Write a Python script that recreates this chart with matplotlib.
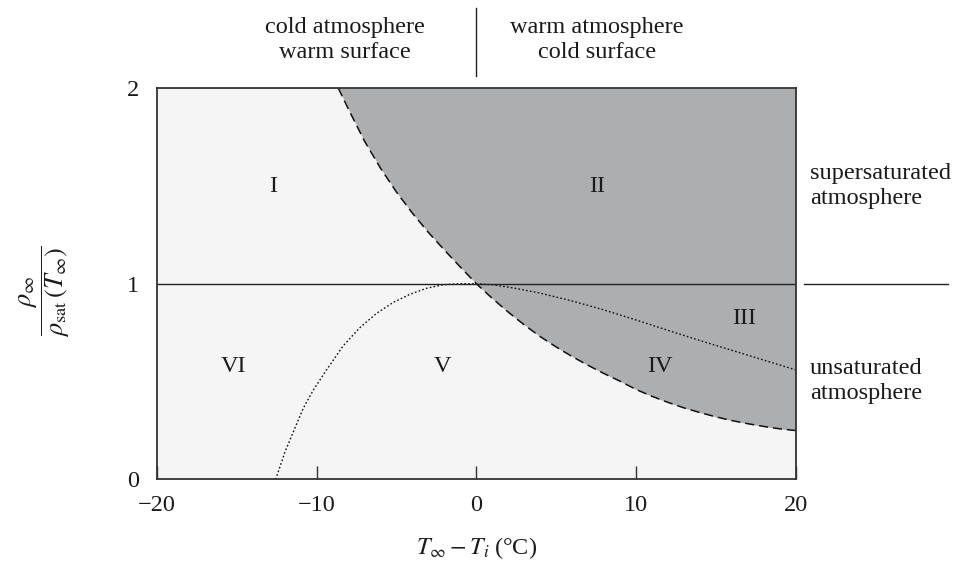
import matplotlib
matplotlib.use("Agg")
import matplotlib.pyplot as plt
import matplotlib.transforms as mtransforms

plt.rcParams['font.family'] = ['Liberation Serif', 'DejaVu Serif']
plt.rcParams['mathtext.fontset'] = 'stix'

# Dashed curve: saturation boundary rho_sat(T_i)/rho_sat(T_inf)
dash_x = [-8.65, -8.0, -7.0, -6.0, -5.0, -4.0, -3.0, -2.0, -1.0, 0.0, 1.0, 2.0, 3.0, 4.0, 5.0,
          6.0, 7.0, 8.0, 9.0, 10.0, 11.0, 12.0, 13.0, 14.0, 15.0, 16.0, 17.0, 18.0, 19.0, 20.0]
dash_y = [2.0, 1.89, 1.728, 1.59, 1.468, 1.36, 1.262, 1.172, 1.085, 1.0, 0.925, 0.855, 0.79, 0.73, 0.677,
          0.628, 0.583, 0.541, 0.502, 0.46, 0.425, 0.394, 0.366, 0.342, 0.32, 0.301, 0.285, 0.271, 0.259, 0.25]

# Dotted curve
dot_x = [-12.57, -11.98, -11.46, -10.84, -10.21, -9.38, -8.33, -7.29, -6.25, -5.2, -4.16, -3.12,
         -2.08, -1.03, 0.0, 1.0, 2.0, 3.0, 4.0, 6.0, 8.0, 10.0, 12.0, 14.0, 16.0, 18.0, 20.0]
dot_y = [0.0, 0.142, 0.244, 0.364, 0.457, 0.56, 0.684, 0.776, 0.849, 0.905, 0.946, 0.977,
         0.995, 1.0, 1.0, 0.995, 0.983, 0.968, 0.952, 0.912, 0.866, 0.815, 0.762, 0.71, 0.66, 0.61, 0.56]

region_labels = ['I', 'II', 'III', 'IV', 'V', 'VI']
region_x = [-12.7, 7.54, 16.8, 11.5, -2.1, -15.2]
region_y = [1.495, 1.495, 0.825, 0.575, 0.575, 0.575]

xticks = [-20, -10, 0, 10, 20]
yticks = [0, 1, 2]

txt = '#1a1a1a'
fs = 17.5

fig = plt.figure(figsize=(9.55, 5.61), dpi=100)
ax = fig.add_axes([0.1644, 0.1453, 0.8332 - 0.1644, 0.8431 - 0.1453])
ax.set_facecolor('#f5f5f5')
ax.set_xlim(-20, 20)
ax.set_ylim(0, 2)

ax.fill_between(dash_x, dash_y, 2, color='#adaeb0', linewidth=0)
ax.plot(dash_x, dash_y, color='#111111', lw=1.1, dashes=(6, 3.2))
ax.plot(dot_x, dot_y, color='#111111', lw=1.0, dashes=(1.2, 1.6))
ax.axhline(1, color='#222222', lw=1.0)

for lab, x, y in zip(region_labels, region_x, region_y):
    ax.text(x, y, lab, ha='center', va='center', fontsize=fs, color=txt)

for s in ax.spines.values():
    s.set_linewidth(1.3)
    s.set_color('#333333')

ax.set_xticks(xticks)
ax.set_xticklabels([('\u2212%d' % -t) if t < 0 else str(t) for t in xticks])
ax.set_yticks(yticks)
ax.tick_params(axis='x', direction='in', length=9.5, width=1.0, pad=11, labelsize=fs, colors='#333333', labelcolor=txt)
ax.tick_params(axis='y', length=0, pad=13, labelsize=fs, labelcolor=txt)

ax.set_xlabel(r'$T_\infty - T_i\;$(°C)', fontsize=fs, color=txt, labelpad=14)

fig.text(45 / 955, 1 - 291 / 561, r'$\dfrac{\rho_\infty}{\rho_{\mathrm{sat}}\,(T_\infty)}$',
         rotation=90, ha='center', va='center', fontsize=19, color=txt)

# top annotations
trans_top = mtransforms.blended_transform_factory(ax.transData, ax.transAxes)
ax.plot([0, 0], [1.031, 1.204], transform=trans_top, color='#222222', lw=1.0, clip_on=False)
fig.text(345 / 955, 1 - 40 / 561, 'cold atmosphere\nwarm surface', ha='center', va='center',
         fontsize=fs, color=txt, linespacing=1.3)
fig.text(597 / 955, 1 - 40 / 561, 'warm atmosphere\ncold surface', ha='center', va='center',
         fontsize=fs, color=txt, linespacing=1.3)

# right annotations
trans_r = mtransforms.blended_transform_factory(ax.transAxes, ax.transData)
ax.plot([1.0125, 1.239], [1, 1], transform=trans_r, color='#222222', lw=1.0, clip_on=False)
fig.text(810 / 955, 1 - 186 / 561, 'supersaturated\natmosphere', ha='left', va='center',
         fontsize=fs, color=txt, linespacing=1.3)
fig.text(810 / 955, 1 - 381 / 561, 'unsaturated\natmosphere', ha='left', va='center',
         fontsize=fs, color=txt, linespacing=1.3)

fig.savefig('out.png', dpi=100)
